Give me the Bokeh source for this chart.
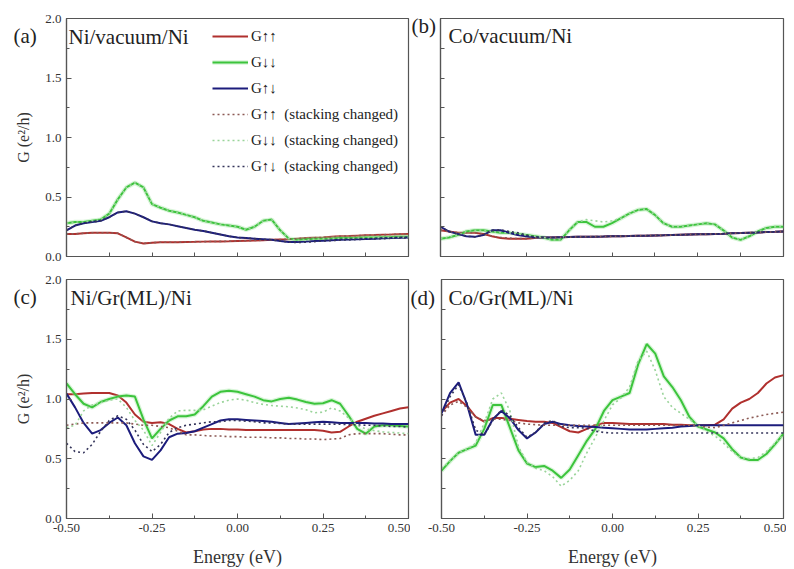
from bokeh.plotting import figure
from bokeh.models import (Range1d, FixedTicker, NumeralTickFormatter, Label, Legend, LegendItem)
from bokeh.layouts import column, row
from bokeh.embed import file_html
from bokeh.resources import INLINE

# ---------------- data ----------------
energy = [-0.500, -0.475, -0.450, -0.425, -0.400, -0.375, -0.350, -0.325, -0.300, -0.275,
          -0.250, -0.225, -0.200, -0.175, -0.150, -0.125, -0.100, -0.075, -0.050, -0.025,
          0.000, 0.025, 0.050, 0.075, 0.100, 0.125, 0.150, 0.175, 0.200, 0.225,
          0.250, 0.275, 0.300, 0.325, 0.350, 0.375, 0.400, 0.425, 0.450, 0.475, 0.500]

x_ticks = [-0.5, -0.25, 0.0, 0.25, 0.5]
x_tick_labels = ["-0.50", "-0.25", "0.00", "0.25", "0.50"]
x_minor = [-0.375, -0.125, 0.125, 0.375]
y_ticks = [0.0, 0.5, 1.0, 1.5, 2.0]
y_tick_labels = ["0.0", "0.5", "1.0", "1.5", "2.0"]
y_minor = [0.25, 0.75, 1.25, 1.75]

panel_tags = ["(a)", "(b)", "(c)", "(d)"]
panel_titles = ["Ni/vacuum/Ni", "Co/vacuum/Ni", "Ni/Gr(ML)/Ni", "Co/Gr(ML)/Ni"]
legend_labels = ["G\u2191\u2191", "G\u2193\u2193", "G\u2191\u2193",
                 "G\u2191\u2191  (stacking changed)", "G\u2193\u2193  (stacking changed)",
                 "G\u2191\u2193  (stacking changed)"]

# panel (a) Ni/vacuum/Ni
a_uu = [0.19, 0.19, 0.195, 0.20, 0.20, 0.20, 0.195, 0.16, 0.125, 0.11,
        0.115, 0.12, 0.12, 0.12, 0.122, 0.123, 0.125, 0.126, 0.127, 0.128,
        0.13, 0.132, 0.134, 0.137, 0.14, 0.143, 0.145, 0.15, 0.155, 0.158,
        0.16, 0.165, 0.17, 0.172, 0.175, 0.178, 0.18, 0.183, 0.185, 0.188, 0.19]
a_dd = [0.28, 0.29, 0.29, 0.30, 0.31, 0.36, 0.48, 0.58, 0.62, 0.58,
        0.44, 0.41, 0.385, 0.37, 0.35, 0.33, 0.30, 0.285, 0.27, 0.26,
        0.25, 0.225, 0.25, 0.30, 0.31, 0.22, 0.15, 0.14, 0.145, 0.15,
        0.15, 0.152, 0.155, 0.155, 0.157, 0.16, 0.16, 0.162, 0.163, 0.165, 0.165]
a_ud = [0.22, 0.26, 0.28, 0.29, 0.30, 0.33, 0.37, 0.38, 0.36, 0.33,
        0.295, 0.28, 0.27, 0.255, 0.24, 0.225, 0.215, 0.20, 0.185, 0.17,
        0.16, 0.155, 0.15, 0.145, 0.14, 0.13, 0.122, 0.122, 0.125, 0.13,
        0.133, 0.137, 0.14, 0.143, 0.145, 0.148, 0.15, 0.153, 0.155, 0.158, 0.16]
a_uu_s = [0.19, 0.19, 0.195, 0.20, 0.20, 0.20, 0.195, 0.16, 0.125, 0.11,
          0.115, 0.12, 0.12, 0.12, 0.122, 0.123, 0.125, 0.126, 0.127, 0.128,
          0.13, 0.132, 0.134, 0.137, 0.14, 0.143, 0.145, 0.15, 0.155, 0.158,
          0.16, 0.165, 0.17, 0.172, 0.175, 0.178, 0.18, 0.183, 0.185, 0.188, 0.19]
a_dd_s = [0.28, 0.29, 0.29, 0.30, 0.31, 0.36, 0.48, 0.58, 0.62, 0.58,
          0.44, 0.41, 0.385, 0.37, 0.35, 0.33, 0.30, 0.285, 0.27, 0.26,
          0.25, 0.225, 0.25, 0.30, 0.31, 0.22, 0.15, 0.135, 0.14, 0.145,
          0.148, 0.15, 0.152, 0.153, 0.155, 0.157, 0.158, 0.16, 0.16, 0.162, 0.163]
a_ud_s = [0.22, 0.26, 0.28, 0.29, 0.30, 0.33, 0.37, 0.38, 0.36, 0.33,
          0.295, 0.28, 0.27, 0.255, 0.24, 0.225, 0.215, 0.20, 0.185, 0.17,
          0.16, 0.155, 0.15, 0.145, 0.14, 0.13, 0.12, 0.118, 0.12, 0.125,
          0.13, 0.133, 0.137, 0.14, 0.143, 0.145, 0.148, 0.15, 0.153, 0.155, 0.157]

# panel (b) Co/vacuum/Ni
b_uu = [0.22, 0.21, 0.20, 0.20, 0.20, 0.19, 0.17, 0.155, 0.15, 0.15,
        0.15, 0.155, 0.16, 0.16, 0.162, 0.163, 0.165, 0.166, 0.167, 0.168,
        0.17, 0.171, 0.172, 0.174, 0.175, 0.177, 0.178, 0.18, 0.183, 0.185,
        0.187, 0.188, 0.19, 0.192, 0.195, 0.197, 0.20, 0.202, 0.205, 0.207, 0.21]
b_dd = [0.15, 0.16, 0.18, 0.21, 0.22, 0.22, 0.21, 0.20, 0.20, 0.19,
        0.18, 0.17, 0.16, 0.14, 0.14, 0.22, 0.29, 0.29, 0.25, 0.25,
        0.28, 0.32, 0.36, 0.39, 0.40, 0.35, 0.28, 0.25, 0.25, 0.26,
        0.27, 0.28, 0.27, 0.22, 0.16, 0.14, 0.17, 0.21, 0.24, 0.25, 0.25]
b_ud = [0.25, 0.21, 0.19, 0.17, 0.165, 0.18, 0.22, 0.22, 0.20, 0.18,
        0.17, 0.16, 0.16, 0.16, 0.162, 0.163, 0.165, 0.166, 0.167, 0.168,
        0.17, 0.171, 0.172, 0.174, 0.175, 0.177, 0.178, 0.18, 0.182, 0.184,
        0.186, 0.188, 0.19, 0.192, 0.195, 0.197, 0.20, 0.202, 0.205, 0.207, 0.21]
b_uu_s = [0.22, 0.21, 0.20, 0.20, 0.20, 0.19, 0.17, 0.16, 0.155, 0.15,
          0.15, 0.155, 0.16, 0.16, 0.162, 0.163, 0.165, 0.166, 0.167, 0.168,
          0.17, 0.171, 0.172, 0.174, 0.175, 0.177, 0.178, 0.18, 0.183, 0.185,
          0.187, 0.188, 0.19, 0.192, 0.195, 0.197, 0.20, 0.202, 0.205, 0.207, 0.21]
b_dd_s = [0.15, 0.16, 0.18, 0.21, 0.22, 0.22, 0.21, 0.20, 0.20, 0.19,
          0.18, 0.17, 0.16, 0.14, 0.14, 0.22, 0.29, 0.31, 0.30, 0.29,
          0.30, 0.32, 0.36, 0.39, 0.40, 0.35, 0.28, 0.25, 0.25, 0.26,
          0.27, 0.28, 0.27, 0.22, 0.16, 0.14, 0.17, 0.21, 0.24, 0.25, 0.25]
b_ud_s = [0.25, 0.21, 0.19, 0.17, 0.165, 0.18, 0.22, 0.225, 0.21, 0.20,
          0.18, 0.165, 0.16, 0.16, 0.162, 0.163, 0.165, 0.166, 0.167, 0.168,
          0.17, 0.171, 0.172, 0.174, 0.175, 0.177, 0.178, 0.18, 0.182, 0.184,
          0.186, 0.188, 0.19, 0.192, 0.195, 0.197, 0.20, 0.202, 0.205, 0.207, 0.21]

# panel (c) Ni/Gr(ML)/Ni
c_uu = [1.04, 1.04, 1.045, 1.05, 1.05, 1.05, 1.03, 0.97, 0.87, 0.81,
        0.80, 0.805, 0.79, 0.75, 0.72, 0.73, 0.745, 0.75, 0.75, 0.745,
        0.745, 0.74, 0.74, 0.74, 0.74, 0.74, 0.74, 0.74, 0.74, 0.74,
        0.735, 0.72, 0.725, 0.77, 0.81, 0.835, 0.86, 0.88, 0.90, 0.92, 0.93]
c_dd = [1.13, 1.04, 0.96, 0.93, 0.975, 1.00, 1.02, 1.03, 1.02, 0.83,
        0.67, 0.75, 0.82, 0.855, 0.855, 0.87, 0.94, 1.02, 1.06, 1.07,
        1.06, 1.04, 1.02, 0.99, 0.98, 1.00, 1.01, 0.995, 0.975, 0.96,
        0.965, 0.99, 0.96, 0.86, 0.75, 0.71, 0.77, 0.78, 0.78, 0.775, 0.77]
c_ud = [1.045, 0.93, 0.80, 0.71, 0.74, 0.80, 0.845, 0.78, 0.63, 0.52,
        0.49, 0.57, 0.68, 0.71, 0.715, 0.73, 0.76, 0.79, 0.82, 0.83,
        0.83, 0.825, 0.82, 0.815, 0.81, 0.80, 0.79, 0.795, 0.80, 0.805,
        0.81, 0.805, 0.80, 0.80, 0.80, 0.80, 0.795, 0.795, 0.79, 0.79, 0.79]
c_uu_s = [0.78, 0.79, 0.80, 0.80, 0.80, 0.80, 0.80, 0.80, 0.79, 0.78,
          0.78, 0.77, 0.76, 0.73, 0.70, 0.70, 0.695, 0.69, 0.69, 0.685,
          0.685, 0.68, 0.68, 0.68, 0.675, 0.675, 0.67, 0.67, 0.665, 0.665,
          0.66, 0.665, 0.67, 0.70, 0.71, 0.71, 0.71, 0.71, 0.705, 0.70, 0.70]
c_dd_s = [0.76, 0.78, 0.90, 0.95, 0.97, 0.99, 1.00, 0.93, 0.82, 0.74,
          0.61, 0.72, 0.84, 0.90, 0.905, 0.905, 0.91, 0.94, 0.97, 0.99,
          1.00, 0.99, 0.97, 0.955, 0.945, 0.94, 0.935, 0.925, 0.91, 0.885,
          0.89, 0.925, 0.90, 0.84, 0.78, 0.75, 0.735, 0.725, 0.72, 0.715, 0.71]
c_ud_s = [0.63, 0.56, 0.55, 0.62, 0.73, 0.82, 0.86, 0.83, 0.74, 0.62,
          0.56, 0.62, 0.72, 0.76, 0.78, 0.79, 0.80, 0.81, 0.81, 0.82,
          0.82, 0.815, 0.81, 0.80, 0.80, 0.795, 0.79, 0.79, 0.79, 0.79,
          0.79, 0.79, 0.79, 0.785, 0.785, 0.78, 0.78, 0.775, 0.77, 0.77, 0.765]

# panel (d) Co/Gr(ML)/Ni
d_uu = [0.89, 0.97, 1.00, 0.94, 0.85, 0.81, 0.84, 0.84, 0.835, 0.825,
        0.815, 0.81, 0.81, 0.80, 0.765, 0.73, 0.72, 0.75, 0.78, 0.80,
        0.80, 0.795, 0.79, 0.79, 0.79, 0.79, 0.79, 0.785, 0.785, 0.78,
        0.78, 0.78, 0.785, 0.83, 0.92, 0.97, 1.00, 1.05, 1.13, 1.18, 1.20]
d_dd = [0.40, 0.48, 0.55, 0.58, 0.61, 0.75, 0.95, 0.95, 0.76, 0.57,
        0.46, 0.43, 0.44, 0.40, 0.34, 0.41, 0.53, 0.65, 0.75, 0.90,
        0.99, 1.02, 1.05, 1.29, 1.46, 1.38, 1.19, 1.10, 0.99, 0.85,
        0.77, 0.745, 0.72, 0.67, 0.58, 0.51, 0.49, 0.49, 0.54, 0.62, 0.71]
d_ud = [0.88, 1.05, 1.14, 0.95, 0.70, 0.70, 0.83, 0.90, 0.84, 0.74,
        0.67, 0.72, 0.79, 0.81, 0.79, 0.78, 0.775, 0.77, 0.765, 0.76,
        0.755, 0.75, 0.745, 0.745, 0.745, 0.75, 0.755, 0.76, 0.77, 0.775,
        0.78, 0.78, 0.78, 0.78, 0.78, 0.78, 0.78, 0.78, 0.78, 0.78, 0.78]
d_uu_s = [0.86, 0.95, 0.98, 0.93, 0.85, 0.82, 0.83, 0.83, 0.82, 0.80,
          0.79, 0.785, 0.78, 0.78, 0.78, 0.78, 0.78, 0.78, 0.78, 0.78,
          0.78, 0.78, 0.78, 0.78, 0.78, 0.78, 0.78, 0.78, 0.78, 0.78,
          0.775, 0.765, 0.76, 0.78, 0.80, 0.82, 0.84, 0.855, 0.87, 0.88, 0.89]
d_dd_s = [0.42, 0.48, 0.55, 0.58, 0.63, 0.80, 1.00, 1.05, 0.90, 0.60,
          0.47, 0.42, 0.40, 0.35, 0.27, 0.32, 0.40, 0.55, 0.68, 0.82,
          0.95, 1.01, 1.10, 1.32, 1.40, 1.24, 1.02, 0.93, 0.88, 0.83,
          0.78, 0.73, 0.69, 0.63, 0.56, 0.51, 0.50, 0.51, 0.56, 0.63, 0.70]
d_ud_s = [0.86, 1.02, 1.12, 0.96, 0.74, 0.70, 0.82, 0.91, 0.86, 0.76,
          0.68, 0.72, 0.80, 0.82, 0.77, 0.76, 0.76, 0.755, 0.73, 0.72,
          0.715, 0.715, 0.715, 0.715, 0.715, 0.715, 0.715, 0.715, 0.715, 0.715,
          0.715, 0.715, 0.715, 0.715, 0.715, 0.715, 0.715, 0.715, 0.715, 0.715, 0.715]

panel_data = [
    (a_uu, a_dd, a_ud, a_uu_s, a_dd_s, a_ud_s),
    (b_uu, b_dd, b_ud, b_uu_s, b_dd_s, b_ud_s),
    (c_uu, c_dd, c_ud, c_uu_s, c_dd_s, c_ud_s),
    (d_uu, d_dd, d_ud, d_uu_s, d_dd_s, d_ud_s),
]

# ---------------- style ----------------
FONT = "Liberation Serif"
RED = "#B0302E"
GREEN = "#3CC43C"
GLOW = "#9FE69F"
BLUE = "#1C1C7C"
RED_D = "#8C5A55"
GREEN_D = "#9AD49A"
BLUE_D = "#34345A"
FRAME = "#555555"
TEXT = "#222222"

# (min_border left, right, top, bottom, frame w, frame h, show x labels, show y labels)
geom = [
    (66, 2, 18, 10, 342, 238, False, True),
    (30, 3, 18, 10, 343, 238, False, False),
    (66, 2, 13, 44, 342, 239, True, True),
    (31, 3, 13, 44, 342, 239, True, False),
]
# tag placement: (horizontal offset from frame left, standoff)
tag_pos = [(-53, -59), (-29, -38), (-53, -59), (-31, -61)]
title_pos = [(2, 220), (8, 221), (4, 221), (7, 221)]

figs = []
for i in range(4):
    ml, mr, mt, mb, fw, fh, show_x, show_y = geom[i]
    p = figure(frame_width=fw, frame_height=fh, x_range=Range1d(-0.5, 0.5),
               y_range=Range1d(0, 2.0), output_backend="svg", toolbar_location=None,
               min_border_left=ml, min_border_right=mr, min_border_top=mt,
               min_border_bottom=mb)
    p.background_fill_color = "white"
    p.border_fill_color = "white"
    p.grid.visible = False
    p.outline_line_color = FRAME
    p.outline_line_width = 1.2

    for ax in (p.xaxis[0], p.yaxis[0]):
        ax.axis_line_color = FRAME
        ax.axis_line_width = 1.2
        ax.major_tick_line_color = FRAME
        ax.minor_tick_line_color = FRAME
        ax.major_tick_in = 5
        ax.major_tick_out = 0
        ax.minor_tick_in = 3
        ax.minor_tick_out = 0
        ax.major_label_text_font = FONT
        ax.major_label_text_font_size = "13px"
        ax.major_label_text_color = "#333333"
        ax.axis_label_text_font = FONT
        ax.axis_label_text_font_style = "normal"
        ax.axis_label_text_color = "#333333"

    if show_x:
        p.xaxis.ticker = FixedTicker(ticks=x_ticks, minor_ticks=x_minor)
        p.xaxis.formatter = NumeralTickFormatter(format="0.00")
        p.xaxis.major_label_overrides = {t: s for t, s in zip(x_ticks, x_tick_labels)}
        p.xaxis.major_label_standoff = 5
        p.xaxis.axis_label = "Energy (eV)"
        p.xaxis.axis_label_text_font_size = "18px"
        p.xaxis.axis_label_standoff = 12
    else:
        # unlabeled axis: tick marks only
        p.xaxis.ticker = FixedTicker(ticks=[], minor_ticks=sorted(x_ticks + x_minor))
        p.xaxis.minor_tick_in = 4
    if show_y:
        p.yaxis.ticker = FixedTicker(ticks=y_ticks, minor_ticks=y_minor)
        p.yaxis.formatter = NumeralTickFormatter(format="0.0")
        p.yaxis.major_label_overrides = {t: s for t, s in zip(y_ticks, y_tick_labels)}
        p.yaxis.major_label_standoff = 5
        p.yaxis.axis_label = "G (e\u00b2/h)"
        p.yaxis.axis_label_text_font_size = "16px"
        p.yaxis.axis_label_standoff = 10
    else:
        p.yaxis.ticker = FixedTicker(ticks=[], minor_ticks=sorted(y_ticks + y_minor))
        p.yaxis.minor_tick_in = 4

    uu, dd, ud, uu_s, dd_s, ud_s = panel_data[i]
    r_uu = p.line(energy, uu, line_color=RED, line_width=2)
    r_glow = p.line(energy, dd, line_color=GLOW, line_width=4.5, line_alpha=0.4)
    r_dd = p.line(energy, dd, line_color=GREEN, line_width=2)
    r_ud = p.line(energy, ud, line_color=BLUE, line_width=2)
    r_uu_s = p.line(energy, uu_s, line_color=RED_D, line_width=1.6, line_dash="2 3")
    r_dd_s = p.line(energy, dd_s, line_color=GREEN_D, line_width=1.6, line_dash="2 3")
    r_ud_s = p.line(energy, ud_s, line_color=BLUE_D, line_width=1.6, line_dash="2 3")

    # panel tag "(a)".. placed left of the frame via the plot title
    off, stand = tag_pos[i]
    p.title.text = panel_tags[i]
    p.title.align = "left"
    p.title.offset = off
    p.title.standoff = stand
    p.title.vertical_align = "bottom"
    p.title.text_font = FONT
    p.title.text_font_size = "21px"
    p.title.text_font_style = "normal"
    p.title.text_color = TEXT

    lx, ly = title_pos[i]
    p.add_layout(Label(x=lx, y=ly, x_units="screen", y_units="screen", text=panel_titles[i],
                       text_font=FONT, text_font_size="21px", text_color=TEXT,
                       text_baseline="alphabetic"))

    if i == 0:
        items = [
            LegendItem(label=legend_labels[0], renderers=[r_uu]),
            LegendItem(label=legend_labels[1], renderers=[r_glow, r_dd]),
            LegendItem(label=legend_labels[2], renderers=[r_ud]),
            LegendItem(label=legend_labels[3], renderers=[r_uu_s]),
            LegendItem(label=legend_labels[4], renderers=[r_dd_s]),
            LegendItem(label=legend_labels[5], renderers=[r_ud_s]),
        ]
        leg = Legend(items=items, location=(146, 80), border_line_color=None,
                     background_fill_alpha=0, padding=0, margin=0, spacing=6,
                     glyph_width=36, glyph_height=20, label_height=20, label_standoff=3,
                     label_text_font=FONT, label_text_font_size="15px",
                     label_text_color=TEXT)
        p.add_layout(leg)
    figs.append(p)

layout = column(row(figs[0], figs[1]), row(figs[2], figs[3]))
open("out.html", "w").write(file_html(layout, INLINE))
